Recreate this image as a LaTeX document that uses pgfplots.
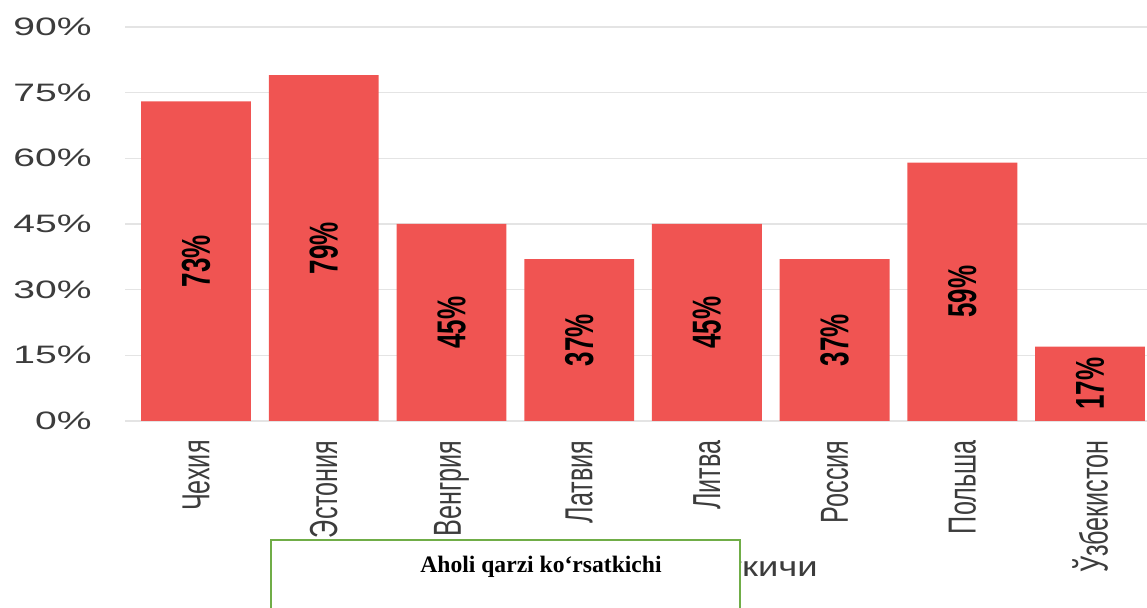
\documentclass[border=0pt]{standalone}
\usepackage{pgfplots}
\pgfplotsset{compat=1.18}
\usepackage{pgfplotstable}
\usepackage{fontspec}
\setmainfont{Liberation Sans}
\newfontfamily\tnr{Liberation Serif}
\definecolor{barred}{RGB}{240,84,82}
\definecolor{gridgray}{RGB}{228,228,228}
\definecolor{labelgray}{RGB}{60,60,60}
\definecolor{boxgreen}{RGB}{112,173,71}
\newcommand{\hs}[1]{\scalebox{1.55}[1]{#1}}
\newcommand{\vs}[1]{\scalebox{1}[1.55]{#1}}
\pgfplotstableread{
x y lab
0 73 73
1 79 79
2 45 45
3 37 37
4 45 45
5 37 37
6 59 59
7 17 17
}\datatable
\begin{document}
\begin{tikzpicture}
\useasboundingbox (0,0) rectangle (573.5pt,304pt);
\begin{axis}[
  scale only axis, width=511pt, height=197pt,
  at={(62.5pt,93.5pt)}, anchor=south west,
  xmin=-0.556, xmax=7.446, ymin=0, ymax=90,
  axis line style={draw=none}, tick style={draw=none},
  ymajorgrids, grid style={color=gridgray, line width=0.7pt},
  ytick={0,15,30,45,60,75,90},
  yticklabels={\hs{0\%},\hs{15\%},\hs{30\%},\hs{45\%},\hs{60\%},\hs{75\%},\hs{90\%}},
  yticklabel style={anchor=east, inner sep=0pt, text=labelgray, font=\fontsize{12.6}{15}\selectfont},
  yticklabel shift=16.5pt,
  xtick={0,1,2,3,4,5,6,7},
  xticklabels={\vs{Чехия},\vs{Эстония},\vs{Венгрия},\vs{Латвия},\vs{Литва},\vs{Россия},\vs{Польша},\vs{Ўзбекистон}},
  xticklabel style={rotate=90, anchor=east, inner sep=0pt, text=labelgray, font=\fontsize{12.6}{15}\selectfont},
  xticklabel shift=9.5pt,
  clip=false,
]
\addplot[ybar, bar width=0.86, fill=barred, draw=none,
  point meta=explicit symbolic,
  nodes near coords={\vs{\bfseries\pgfplotspointmeta\%}},
  visualization depends on={y \as \rawy},
  every node near coord/.append style={shift={(axis direction cs:0,-\rawy/2)}, rotate=90, anchor=center, inner sep=0pt, text=black,
     font=\fontsize{13}{15}\selectfont},
] table[x=x,y=y,meta=lab] {\datatable};
\end{axis}
\node[anchor=base east, inner sep=0pt, text=labelgray, font=\fontsize{14}{16}\selectfont] at (409pt,15.5pt) {\scalebox{1.3}[1]{Аҳоли қарзи кўрсаткичи}};
\draw[boxgreen, line width=1pt, fill=white] (135.5pt,-3pt) rectangle (370pt,34pt);
\node[anchor=base, inner sep=0pt, font=\tnr\bfseries\fontsize{11.8}{14}\selectfont] at (270.5pt,17.5pt) {Aholi qarzi ko‘rsatkichi};
\end{tikzpicture}
\end{document}
